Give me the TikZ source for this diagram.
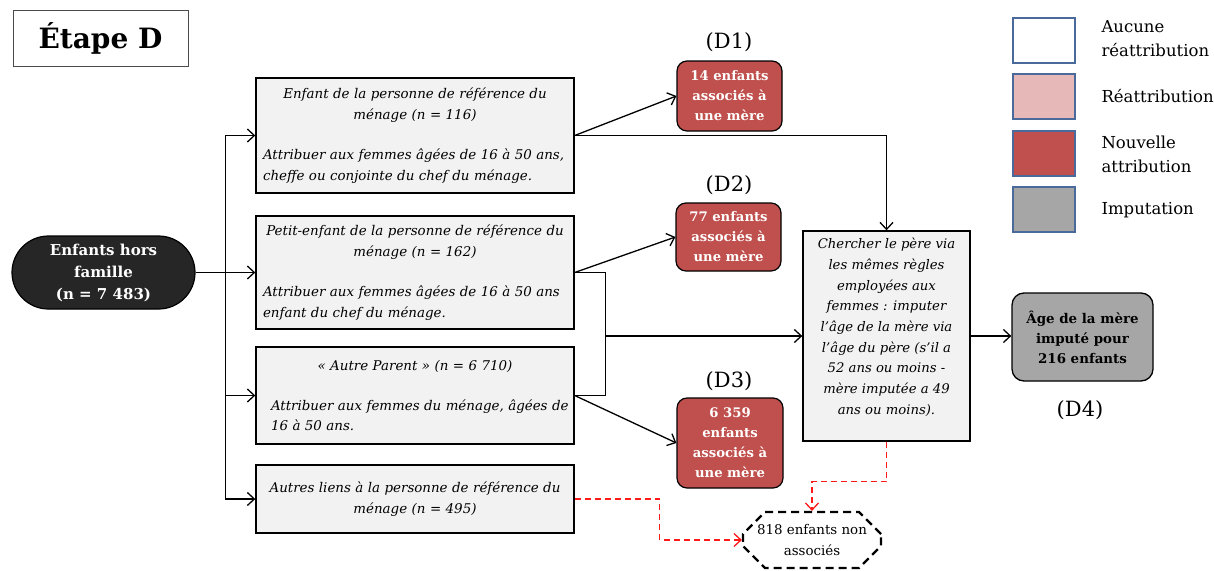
\documentclass[tikz,border=0pt]{standalone}
\usepackage{fontspec}
\setmainfont{DejaVu Serif}
\usetikzlibrary{arrows.meta,shapes.misc,calc}
\definecolor{boxgray}{HTML}{F2F2F2}
\definecolor{newred}{HTML}{C0504D}
\definecolor{reapink}{HTML}{E6B9B8}
\definecolor{impgray}{HTML}{A6A6A6}
\definecolor{ovaldark}{HTML}{262626}
\definecolor{legblue}{HTML}{4A6A9C}
\definecolor{dashred}{HTML}{FF1A1A}
\tikzset{
  stepbox/.style={draw=black, line width=1.4pt, fill=boxgray, inner sep=0pt,
    minimum width=318pt, text width=304pt,
    font=\fontsize{13.4}{20.8}\selectfont\itshape},
  newbox/.style={draw=black, line width=1.2pt, fill=newred, rounded corners=10pt,
    inner sep=0pt, align=center, text=white,
    font=\fontsize{13.2}{20}\selectfont\bfseries},
  legbox/.style={draw=legblue, line width=1.3pt, minimum width=62pt, minimum height=45pt, inner sep=0pt},
  legtext/.style={anchor=west, align=left, font=\fontsize{16.5}{24}\selectfont},
  tag/.style={font=\fontsize{21}{23}\selectfont},
  arr/.style={line width=1.3pt, -{Straight Barb[length=7pt,width=13pt]}},
  plain/.style={line width=1.3pt},
  redarr/.style={line width=1.3pt, draw=dashred, dash pattern=on 6pt off 4pt,
    -{Straight Barb[length=7pt,width=13pt]}},
}
\begin{document}
\begin{tikzpicture}[x=1pt,y=-1pt]
\useasboundingbox (0,0) rectangle (1214,570);

% title
\node[draw=black!70, line width=1pt, minimum width=175pt, minimum height=56pt, inner sep=0pt,
  font=\fontsize{28}{30}\selectfont\bfseries] (title) at (100.5,38) {Étape D};

% start
\node[fill=ovaldark, draw=black, line width=1.2pt, rounded rectangle, minimum width=183pt,
  minimum height=73pt, inner sep=0pt, align=center, text=white,
  font=\fontsize{15}{22}\selectfont\bfseries] (start) at (103.5,272.5)
  {Enfants hors\\famille\\(n = 7 483)};

% link categories
\node[stepbox, minimum height=115pt] (b1) at (415,135.5)
  {{\centering Enfant de la personne de référence du\\ménage (n = 116)\par}\vspace{19pt}
   Attribuer aux femmes âgées de 16 à 50 ans,\\cheffe ou conjointe du chef du ménage.};
\node[stepbox, minimum height=113pt] (b2) at (415,272.5)
  {{\centering Petit-enfant de la personne de référence du\\ménage (n = 162)\par}\vspace{19pt}
   Attribuer aux femmes âgées de 16 à 50 ans\\enfant du chef du ménage.};
\node[stepbox, minimum height=97pt] (b3) at (415,395.5)
  {{\centering « Autre Parent » (n = 6 710)\par}\vspace{19pt}
   \hspace*{8pt}\mbox{Attribuer aux femmes du ménage, âgées de}\\\hspace*{8pt}16 à 50 ans.};
\node[stepbox, minimum height=68pt, align=center] (b4) at (415,499)
  {Autres liens à la personne de référence du\\ménage (n = 495)};

% outcomes
\node[newbox, minimum width=105pt, minimum height=70pt] (d1) at (729.5,96)
  {14 enfants\\associés à\\une mère};
\node[newbox, minimum width=105pt, minimum height=68pt] (d2) at (728.5,237)
  {77 enfants\\associés à\\une mère};
\node[newbox, minimum width=106pt, minimum height=90pt] (d3) at (730,443)
  {6 359\\enfants\\associés à\\une mère};
\node[tag] (t1) at (729,42) {(D1)};
\node[tag] (t2) at (729,185) {(D2)};
\node[tag] (t3) at (729,381) {(D3)};

% father step
\node[draw=black, line width=1.4pt, fill=boxgray, minimum width=167pt, minimum height=210pt,
  inner sep=0pt] (father) at (886.5,336) {};
\node[align=center, anchor=north, inner sep=0pt,
  font=\fontsize{13.2}{20.7}\selectfont\itshape] (ftext) at (886.5,238)
  {Chercher le père via\\les mêmes règles\\employées aux\\femmes : imputer\\l’âge de la mère via\\l’âge du père (s’il a\\52 ans ou moins -\\mère imputée a 49\\ans ou moins).};

\node[draw=black, line width=1.3pt, fill=impgray, rounded corners=12pt, minimum width=141pt,
  minimum height=88pt, inner sep=0pt, align=center,
  font=\fontsize{13.4}{20}\selectfont\bfseries] (d4) at (1082.5,337)
  {Âge de la mère\\imputé pour\\216 enfants};
\node[tag] (t4) at (1080,410) {(D4)};

\node[chamfered rectangle, chamfered rectangle xsep=10pt, chamfered rectangle ysep=12pt,
  draw=black, line width=2.2pt, dash pattern=on 8pt off 5pt, fill=white,
  minimum width=138pt, minimum height=56pt, inner sep=0pt, align=center,
  font=\fontsize{13.4}{21}\selectfont] (nona) at (812,540)
  {818 enfants non\\associés};

% connectors
\coordinate (tk1) at ($(b1.west)+(-30,0)$);
\coordinate (tk4) at ($(b4.west)+(-30,0)$);
\draw[plain] (tk1) -- (tk4);
\draw[arr] (tk1) -- (b1.west);
\draw[arr] (tk4) -- (b4.west);
\draw[arr] (b3.west -| tk1) -- (b3.west);
\draw[arr] (start.east) -- (b2.west);

\draw[arr] (b1.east) -- (d1.west);
\draw[arr] (b1.east) -| (father.north);
\draw[arr] (b2.east) -- (d2.west);
\draw[arr] (b3.east) -- (d3.west);
\coordinate (jn) at ($(b2.east)+(31,0)$);
\draw[line width=1pt] (b2.east) -- (jn) |- (b3.east);
\draw[arr] (jn |- father.west) -- (father.west);
\draw[arr] (father.east) -- (father.east -| d4.west);

\draw[redarr] (b4.east) -- ++(85,0) |- (nona.west);
\draw[redarr] (father.south) -- ++(0,40) -| (nona.north);

% legend
\node[legbox, fill=white] (l1) at (1044,40.5) {};
\node[legbox, fill=reapink] (l2) at (1044,96.5) {};
\node[legbox, fill=newred] (l3) at (1044,153.5) {};
\node[legbox, fill=impgray] (l4) at (1044,209.5) {};
\node[legtext] (lt1) at (1098,39) {Aucune\\réattribution};
\node[legtext] (lt2) at (1098,96) {Réattribution};
\node[legtext] (lt3) at (1098,154) {Nouvelle\\attribution};
\node[legtext] (lt4) at (1098,210) {Imputation};
\end{tikzpicture}
\end{document}
